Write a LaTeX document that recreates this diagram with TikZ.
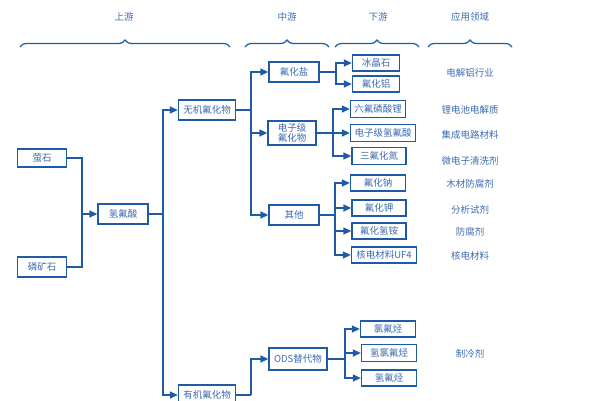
\documentclass[tikz,border=0pt]{standalone}
\usepackage{fontspec}
\setmainfont{Noto Sans CJK SC}
\usetikzlibrary{arrows.meta,decorations.pathreplacing}
\definecolor{bl}{HTML}{1F5AA6}
\definecolor{tx}{HTML}{3D6BB0}
\begin{document}
\begin{tikzpicture}[x=1pt,y=-1pt,
  box/.style={draw=bl,line width=1.3pt,text=tx,font=\fontsize{9.5}{10}\selectfont,inner sep=0pt,align=center,fill=white},
  lab/.style={text=tx,font=\fontsize{9.5}{10}\selectfont},
  ln/.style={draw=bl,line width=1.3pt},
  arr/.style={ln,-{Triangle[length=8pt,width=7pt]}},
  br/.style={draw=bl,line width=1.2pt,decorate,decoration={brace,amplitude=7pt}}]
\useasboundingbox (0,0) rectangle (600,400);
% headers
\node[lab] (h1) at (124,17) {上游};
\node[lab] (h2) at (287,17) {中游};
\node[lab] (h3) at (378,17) {下游};
\node[lab] (h4) at (470,17) {应用领域};
\draw[br] (20,47) -- (230,47);
\draw[br] (245,47) -- (329,47);
\draw[br] (335,47) -- (419,47);
\draw[br] (428,47) -- (512,47);
% nodes
\node[box,minimum width=49pt,minimum height=18pt] (ys) at (42,158) {萤石};
\node[box,minimum width=49pt,minimum height=20pt] (lk) at (42,267) {磷矿石};
\node[box,minimum width=50pt,minimum height=20pt] (hf) at (123,214) {氢氟酸};
\node[box,minimum width=57pt,minimum height=20pt] (wj) at (207,110) {无机氟化物};
\node[box,minimum width=57pt,minimum height=20pt] (yj) at (207,395) {有机氟化物};
\node[box,minimum width=50pt,minimum height=20pt] (fhy) at (294,72) {氟化盐};
\node[box,minimum width=48pt,minimum height=24pt] (dz) at (292,133) {电子级\\氟化物};
\node[box,minimum width=50pt,minimum height=20pt] (qt) at (294,215) {其他};
\node[box,minimum width=58pt,minimum height=22pt] (ods) at (298,359) {ODS替代物};
\node[box,minimum width=47pt,minimum height=16pt] (bjs) at (376,63) {冰晶石};
\node[box,minimum width=47pt,minimum height=16pt] (fhl) at (376,84) {氟化铝};
\node[box,minimum width=55pt,minimum height=17pt] (lfl) at (378,109) {六氟磷酸锂};
\node[box,minimum width=65pt,minimum height=17pt] (dzq) at (383,133) {电子级氢氟酸};
\node[box,minimum width=54pt,minimum height=17pt] (sfh) at (379,156) {三氟化氮};
\node[box,minimum width=55pt,minimum height=16pt] (fhn) at (378,183) {氟化钠};
\node[box,minimum width=54pt,minimum height=16pt] (fhj) at (379,208) {氟化钾};
\node[box,minimum width=54pt,minimum height=16pt] (fha) at (379,231) {氟化氢铵};
\node[box,minimum width=65pt,minimum height=16pt] (uf) at (384,255) {核电材料UF4};
\node[box,minimum width=55pt,minimum height=16pt] (lft) at (388,329) {氯氟烃};
\node[box,minimum width=55pt,minimum height=17pt] (qlf) at (389,353) {氢氯氟烃};
\node[box,minimum width=55pt,minimum height=16pt] (qft) at (389,378) {氢氟烃};
% applications
\node[lab] (a1) at (470,73) {电解铝行业};
\node[lab] (a2) at (470,110) {锂电池电解质};
\node[lab] (a3) at (470,135) {集成电路材料};
\node[lab] (a4) at (470,161) {微电子清洗剂};
\node[lab] (a5) at (470,184) {木材防腐剂};
\node[lab] (a6) at (470,210) {分析试剂};
\node[lab] (a7) at (470,232) {防腐剂};
\node[lab] (a8) at (470,256) {核电材料};
\node[lab] (a9) at (470,354) {制冷剂};
% junctions
\coordinate (j1) at (82,214);
\coordinate (j2) at (163,214);
\coordinate (j3) at (251,110);
\coordinate (j4) at (336,72);
\coordinate (j5) at (333,133);
\coordinate (j6) at (335,215);
\coordinate (j7) at (251,395);
\coordinate (j8) at (345,359);
% connectors
\draw[ln] (ys.east) -| (j1);
\draw[ln] (lk.east) -| (j1);
\draw[arr] (j1) -- (hf.west);
\draw[ln] (hf.east) -- (j2);
\draw[arr] (j2) |- (wj.west);
\draw[arr] (j2) |- (yj.west);
\draw[ln] (wj.east) -- (j3);
\draw[arr] (j3) |- (fhy.west);
\draw[arr] (j3) |- (dz.west);
\draw[arr] (j3) |- (qt.west);
\draw[ln] (fhy.east) -- (j4);
\draw[arr] (j4) |- (bjs.west);
\draw[arr] (j4) |- (fhl.west);
\draw[ln] (dz.east) -- (j5);
\draw[arr] (j5) |- (lfl.west);
\draw[arr] (j5) -- (dzq.west);
\draw[arr] (j5) |- (sfh.west);
\draw[ln] (qt.east) -- (j6);
\draw[arr] (j6) |- (fhn.west);
\draw[arr] (j6) |- (fhj.west);
\draw[arr] (j6) |- (fha.west);
\draw[arr] (j6) |- (uf.west);
\draw[ln] (yj.east) -- (j7);
\draw[arr] (j7) |- (ods.west);
\draw[ln] (ods.east) -- (j8);
\draw[arr] (j8) |- (lft.west);
\draw[arr] (j8) |- (qlf.west);
\draw[arr] (j8) |- (qft.west);
\end{tikzpicture}
\end{document}
